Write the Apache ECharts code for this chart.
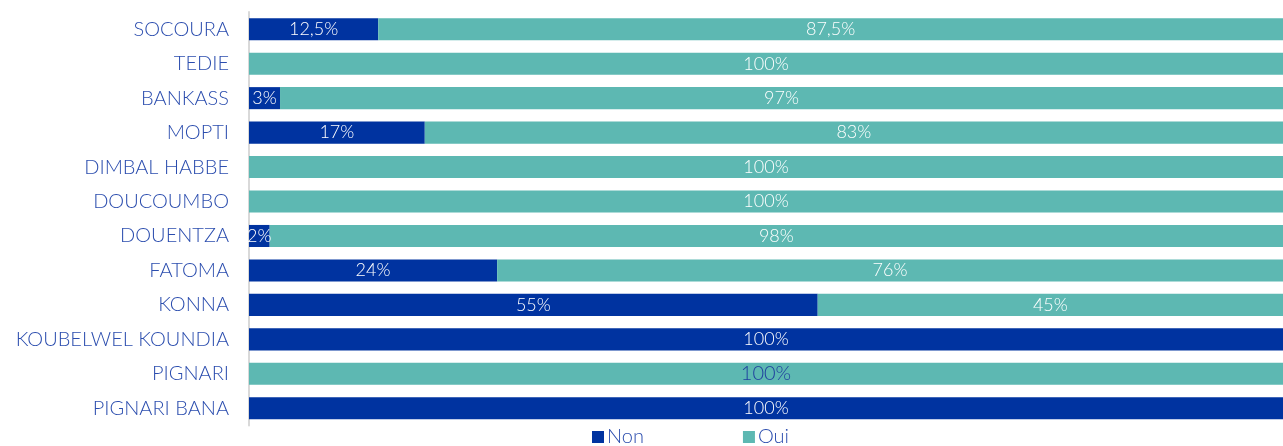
<!DOCTYPE html>
<html>
<head>
<meta charset="utf-8">
<script src="https://cdn.jsdelivr.net/npm/echarts@6/dist/echarts.min.js"></script>
<style>
  html, body { margin: 0; padding: 0; background: #fff; }
  #chart { width: 1283px; height: 446px; }
</style>
</head>
<body>
<div id="chart"></div>
<script>
// Communes, top to bottom
const communes = [
  'SOCOURA', 'TEDIE', 'BANKASS', 'MOPTI', 'DIMBAL HABBE', 'DOUCOUMBO',
  'DOUENTZA', 'FATOMA', 'KONNA', 'KOUBELWEL KOUNDIA', 'PIGNARI', 'PIGNARI BANA'
];
// Share of answers (%)
const nonValues = [12.5, 0, 3, 17, 0, 0, 2, 24, 55, 100, 0, 100];
const ouiValues = [87.5, 100, 97, 83, 100, 100, 98, 76, 45, 0, 100, 0];

const NON_COLOR = '#0033A0';
const OUI_COLOR = '#5DB8B2';
const TEXT_BLUE = '#2B4DAE';
const FONT = 'Lato, "Open Sans", sans-serif';

const pctLabel = v => v ? String(v).replace('.', ',') + '%' : '';

const labelStyle = {
  show: true,
  position: 'inside',
  color: '#ffffff',
  fontFamily: FONT,
  fontWeight: 300,
  fontSize: 18,
  formatter: p => pctLabel(p.value)
};

// PIGNARI "Oui" label is drawn in dark blue and slightly larger
const ouiData = ouiValues.map((v, i) => communes[i] === 'PIGNARI'
  ? { value: v, label: { color: '#1F3F9E', fontSize: 20 } }
  : v);

const chart = echarts.init(document.getElementById('chart'), null, { renderer: 'canvas' });
chart.setOption({
  animation: false,
  grid: { left: 249, right: 0, top: 12, bottom: 20.5, containLabel: false },
  legend: {
    left: 592,
    top: 427,
    padding: 0,
    itemWidth: 12,
    itemHeight: 12,
    itemGap: 99,
    icon: 'rect',
    textStyle: { color: TEXT_BLUE, fontFamily: FONT, fontWeight: 300, fontSize: 20, padding: [0, 0, 0, -2] },
    data: ['Non', 'Oui']
  },
  xAxis: {
    type: 'value',
    min: 0,
    max: 100,
    show: false
  },
  yAxis: {
    type: 'category',
    inverse: true,
    data: communes,
    axisLine: { show: true, lineStyle: { color: '#D9D9D9', width: 2 } },
    axisTick: { show: false },
    axisLabel: { color: TEXT_BLUE, fontFamily: FONT, fontWeight: 300, fontSize: 20, margin: 20 }
  },
  series: [
    {
      name: 'Non',
      type: 'bar',
      stack: 'total',
      barCategoryGap: '36%',
      itemStyle: { color: NON_COLOR },
      label: labelStyle,
      data: nonValues
    },
    {
      name: 'Oui',
      type: 'bar',
      stack: 'total',
      barCategoryGap: '36%',
      itemStyle: { color: OUI_COLOR },
      label: labelStyle,
      data: ouiData
    }
  ]
});
</script>
</body>
</html>
